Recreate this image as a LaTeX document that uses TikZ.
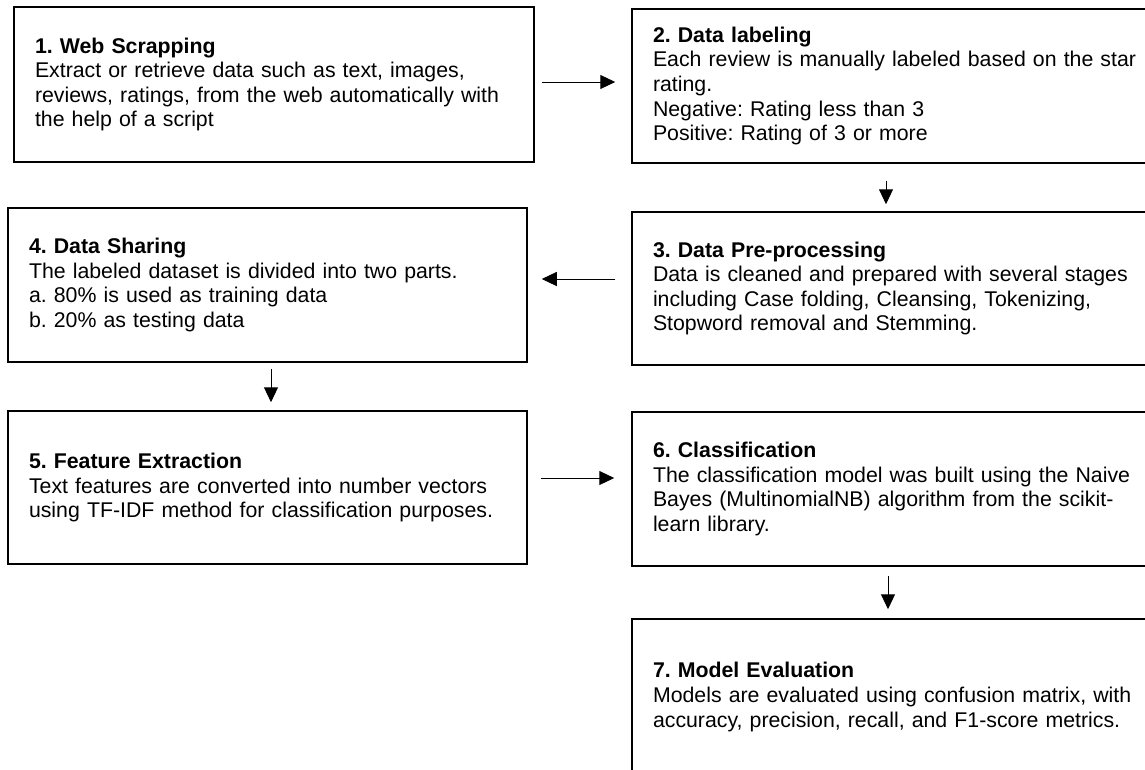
\documentclass[tikz,border=0pt]{standalone}
\usepackage{fontspec}
\setmainfont{Liberation Sans}
\frenchspacing
\usetikzlibrary{arrows.meta}
\tikzset{
  stepbox/.style={draw=black, line width=1.5pt, rectangle, align=left,
    inner xsep=21pt, inner ysep=0pt, text width=478pt, minimum height=154pt,
    font=\fontsize{21.3pt}{24.6pt}\selectfont},
  rightbox/.style={stepbox, text width=500pt},
  arr/.style={line width=1pt, -{Triangle[length=15pt,width=14pt]}}
}
\begin{document}
\begin{tikzpicture}[x=1pt,y=-1pt]
\useasboundingbox (0,0) rectangle (1145,769);
\clip (0,0) rectangle (1145,769);
\node[stepbox, minimum height=155pt] (b1) at (274,84.5) {\textbf{1. Web Scrapping}\\Extract or retrieve data such as text, images,\\reviews, ratings, from the web automatically with\\the help of a script};
\node[rightbox] (b2) at (903,86) {\textbf{2. Data labeling}\\Each review is manually labeled based on the star\\rating.\\Negative: Rating less than 3\\Positive: Rating of 3 or more};
\node[rightbox, minimum height=153pt] (b3) at (903,288.5) {\textbf{3. Data Pre-processing}\\Data is cleaned and prepared with several stages\\including Case folding, Cleansing, Tokenizing,\\Stopword removal and Stemming.};
\node[stepbox, text width=477pt] (b4) at (267.5,285) {\textbf{4. Data Sharing}\\The labeled dataset is divided into two parts.\\a. 80\% is used as training data\\b. 20\% as testing data};
\node[stepbox, text width=477pt, minimum height=153pt] (b5) at (267.5,487.5) {\textbf{5. Feature Extraction}\\Text features are converted into number vectors\\using TF-IDF method for classification purposes.};
\node[rightbox] (b6) at (903,489) {\textbf{6. Classification}\\The classification model was built using the Naive\\Bayes (MultinomialNB) algorithm from the scikit-\\learn library.};
\node[rightbox, minimum height=156pt] (b7) at (903,697) {\textbf{7. Model Evaluation}\\Models are evaluated using confusion matrix, with\\accuracy, precision, recall, and F1-score metrics.};
\draw[arr, shorten <=7pt, shorten >=16pt] ([yshift=2.5pt]b1.east) -- ([yshift=2.5pt]b1.east -| b2.west);
\draw[arr, shorten <=17pt, shorten >=7pt] ([xshift=-17pt]b2.south) -- ([xshift=-17pt]b3.north);
\draw[arr, shorten <=16pt, shorten >=14pt] ([yshift=6pt]b4.east -| b3.west) -- ([yshift=6pt]b4.east);
\draw[arr, shorten <=6pt, shorten >=8pt] ([xshift=3.5pt]b4.south) -- ([xshift=3.5pt]b5.north);
\draw[arr, shorten <=13pt, shorten >=17pt] ([yshift=9.5pt]b5.east) -- ([yshift=9.5pt]b5.east -| b6.west);
\draw[arr, shorten <=9pt, shorten >=9pt] ([xshift=-15pt]b6.south) -- ([xshift=-15pt]b7.north);
\end{tikzpicture}
\end{document}
